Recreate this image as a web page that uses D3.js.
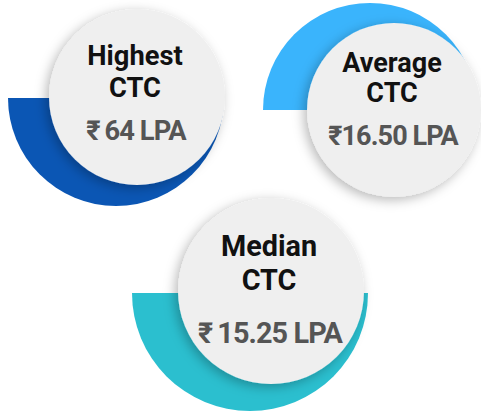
<!DOCTYPE html>
<html lang="en">
<head>
    <meta charset="UTF-8">
    <title>CTC Highlights</title>
    <script src="https://d3js.org/d3.v7.min.js"></script>
    <style>
        body {
            margin: 0;
            padding: 0;
            background: #fff;
            font-family: Roboto, "Noto Sans", Arial, sans-serif;
        }
        #chart svg {
            display: block;
        }
    </style>
</head>
<body>
    <div id="chart"></div>

    <script>
        // data
        const titles = ['Highest', 'Average', 'Median'];
        const values = [64, 16.50, 15.25];
        const valueLabels = ['₹\u200964 LPA', '₹16.50 LPA', '₹\u200915.25 LPA'];
        const colors = ['#0b56b4', '#3ab4fc', '#2bbfcf'];

        // layout of each card (circle + half disc behind it)
        const layout = [
            { cx: 137, cy: 97, r: 88, ax: 116, ay: 98, ar: 108, half: 'bottom', t1: -32, t2: 0, tv: 43 },
            { cx: 394, cy: 110, r: 87, ax: 370, ay: 110, ar: 107, half: 'top', t1: -38, t2: -8, tv: 35 },
            { cx: 271, cy: 291, r: 93, ax: 250, ay: 293, ar: 118, half: 'bottom', t1: -35, t2: -1, tv: 52 }
        ];

        const width = 481;
        const height = 413;

        const svg = d3.select('#chart')
            .append('svg')
            .attr('width', width)
            .attr('height', height);

        const defs = svg.append('defs');
        defs.append('filter')
            .attr('id', 'shadow')
            .attr('x', '-30%').attr('y', '-30%')
            .attr('width', '160%').attr('height', '160%')
            .append('feDropShadow')
            .attr('dx', -3)
            .attr('dy', 3)
            .attr('stdDeviation', 6)
            .attr('flood-color', '#000')
            .attr('flood-opacity', 0.28);

        const cards = titles.map((t, i) => ({
            title: t,
            value: values[i],
            label: valueLabels[i],
            color: colors[i],
            ...layout[i]
        }));

        const arc = d3.arc().innerRadius(0);

        const g = svg.selectAll('g.card')
            .data(cards)
            .enter().append('g')
            .attr('class', 'card');

        // coloured half disc
        g.append('path')
            .attr('transform', d => `translate(${d.ax},${d.ay})`)
            .attr('fill', d => d.color)
            .attr('d', d => arc({
                outerRadius: d.ar,
                startAngle: d.half === 'bottom' ? Math.PI / 2 : -Math.PI / 2,
                endAngle: d.half === 'bottom' ? Math.PI * 1.5 : Math.PI / 2
            }));

        // grey circle
        g.append('circle')
            .attr('cx', d => d.cx)
            .attr('cy', d => d.cy)
            .attr('r', d => d.r)
            .attr('fill', '#efefef')
            .attr('filter', 'url(#shadow)');

        const fs = d => (d.r * 0.31).toFixed(1);

        g.append('text')
            .attr('x', d => d.cx - 2)
            .attr('y', d => d.cy + d.t1)
            .attr('text-anchor', 'middle')
            .attr('font-weight', 700)
            .attr('font-size', fs)
            .attr('fill', '#111')
            .text(d => d.title);

        g.append('text')
            .attr('x', d => d.cx - 2)
            .attr('y', d => d.cy + d.t2)
            .attr('text-anchor', 'middle')
            .attr('font-weight', 700)
            .attr('font-size', fs)
            .attr('fill', '#111')
            .text('CTC');

        g.append('text')
            .attr('x', d => d.cx - 1)
            .attr('y', d => d.cy + d.tv)
            .attr('text-anchor', 'middle')
            .attr('font-weight', 700)
            .attr('font-size', fs)
            .attr('letter-spacing', -0.9)
            .attr('fill', '#555')
            .text(d => d.label);
    </script>
</body>
</html>
